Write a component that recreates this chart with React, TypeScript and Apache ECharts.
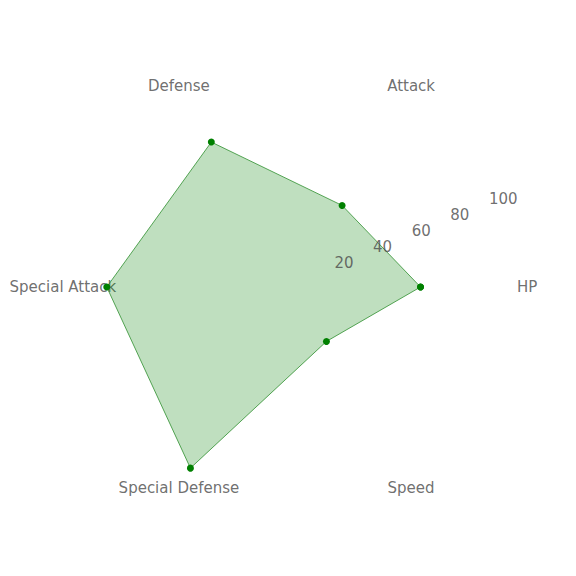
import React, { useEffect, useRef } from "react";
import * as echarts from "echarts";

const indicators = ["HP", "Attack", "Defense", "Special Attack", "Special Defense", "Speed"];
const indicatorAngles = [0, 60, 120, 180, 240, 300];
const statValues = [55, 40, 75, 85, 95, 25];
const radialTicks = [20, 40, 60, 80, 100];

const RADIUS_MIN = -5.07;
const RADIUS_MAX = 106;
const NAME_RADIUS = 106;
const TICK_ANGLE = 22.5;

export default function App() {
  const ref = useRef<HTMLDivElement>(null);
  useEffect(() => {
    document.body.style.margin = "0";
    const chart = echarts.init(ref.current!, null, { renderer: "svg" });
    const lineData = statValues.map((v, i) => [v, indicatorAngles[i]]);
    lineData.push([statValues[0], 360]);
    const font = "DejaVu Sans";
    const textColor = "#4a4a4a";
    chart.setOption({
      animation: false,
      backgroundColor: "#ffffff",
      polar: { center: [295, 287], radius: 2.09 * (RADIUS_MAX - RADIUS_MIN) },
      angleAxis: {
        type: "value",
        min: 0,
        max: 360,
        startAngle: 0,
        clockwise: false,
        show: false,
      },
      radiusAxis: {
        type: "value",
        min: RADIUS_MIN,
        max: RADIUS_MAX,
        show: false,
      },
      series: [
        {
          type: "scatter",
          coordinateSystem: "polar",
          z: 1,
          symbolSize: 1,
          itemStyle: { color: "transparent" },
          data: indicators.map((n, i) => ({ name: n, value: [NAME_RADIUS, indicatorAngles[i]] })),
          label: {
            show: true,
            position: "inside",
            align: "center",
            verticalAlign: "middle",
            offset: [0, 0],
            formatter: (p: any) => p.name,
            color: textColor,
            fontFamily: font,
            fontSize: 15,
          },
          silent: true,
        },
        {
          type: "line",
          coordinateSystem: "polar",
          z: 2,
          data: lineData,
          symbol: "circle",
          symbolSize: 7,
          showSymbol: true,
          itemStyle: { color: "#008000" },
          lineStyle: { color: "#2e8f2e", width: 0.8 },
          areaStyle: { color: "#008000", opacity: 0.25, origin: "start" },
          silent: true,
        },
        {
          type: "scatter",
          coordinateSystem: "polar",
          z: 3,
          symbolSize: 1,
          itemStyle: { color: "transparent" },
          data: radialTicks.map((t) => ({ name: String(t), value: [t, TICK_ANGLE] })),
          label: {
            show: true,
            position: "inside",
            align: "left",
            verticalAlign: "middle",
            offset: [-9, -4],
            formatter: (p: any) => p.name,
            color: textColor,
            fontFamily: font,
            fontSize: 15,
          },
          silent: true,
        },
      ],
    });
    return () => chart.dispose();
  }, []);
  return (
    <div
      ref={ref}
      style={{ position: "fixed", left: 0, top: 0, width: 576, height: 576 }}
    />
  );
}
